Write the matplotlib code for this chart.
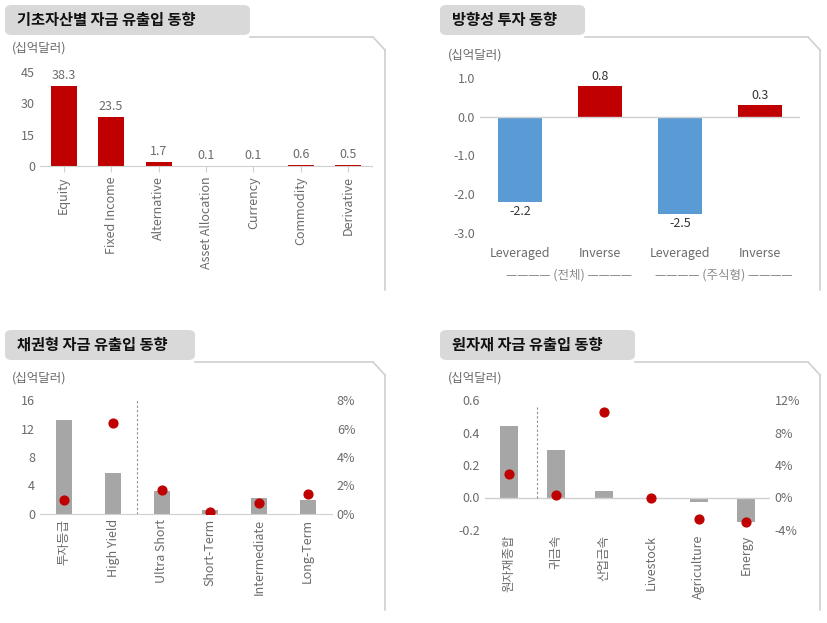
import matplotlib
matplotlib.use("Agg")
import matplotlib.pyplot as plt
from matplotlib.patches import FancyBboxPatch
from matplotlib.lines import Line2D

plt.rcParams['font.family'] = ['Noto Sans CJK KR', 'Noto Sans CJK JP', 'Noto Sans CJK SC', 'DejaVu Sans']

asset_cats = ["Equity", "Fixed Income", "Alternative", "Asset Allocation", "Currency", "Commodity", "Derivative"]
asset_vals = [38.3, 23.5, 1.7, 0.1, 0.1, 0.6, 0.5]

dir_cats = ["Leveraged", "Inverse", "Leveraged", "Inverse"]
dir_vals = [-2.2, 0.8, -2.5, 0.3]

bond_cats = ["투자등급", "High Yield", "Ultra Short", "Short-Term", "Intermediate", "Long-Term"]
bond_flows = [13.2, 5.8, 3.2, 0.5, 2.3, 1.9]
bond_pct = [1.0, 6.4, 1.7, 0.15, 0.8, 1.4]

comm_cats = ["원자재종합", "귀금속", "산업금속", "Livestock", "Agriculture", "Energy"]
comm_flows = [0.44, 0.29, 0.04, 0.0, -0.03, -0.15]
comm_pct = [2.9, 0.3, 10.5, 0.0, -2.7, -3.0]

RED = "#c00000"
BLUE = "#5b9bd5"
GRAY = "#a6a6a6"
TXT = "#6b6b6b"
FS = 9
W, H = 827, 623

fig = plt.figure(figsize=(8.27, 6.23), dpi=100)

def px(x0, y0, x1, y1):
    return [x0 / W, 1 - y1 / H, (x1 - x0) / W, (y1 - y0) / H]

def panel(x0, y0, tabw, x1, y1, title):
    fig.patches.append(FancyBboxPatch((x0 / W, 1 - (y0 + 30) / H), tabw / W, 30 / H,
                                      boxstyle="round,pad=0,rounding_size=0.008",
                                      transform=fig.transFigure, fc="#d9d9d9", ec="none"))
    fig.text((x0 + 12) / W, 1 - (y0 + 15) / H, title, fontsize=11, fontweight='bold',
             va='center', ha='left', color="#111111")
    fig.add_artist(Line2D([(x0 + tabw) / W, (x1 - 12) / W], [1 - (y0 + 32) / H] * 2,
                          transform=fig.transFigure, color="#d0d0d0", lw=1.2))
    fig.add_artist(Line2D([(x1) / W] * 2, [1 - (y0 + 45) / H, 1 - y1 / H],
                          transform=fig.transFigure, color="#d0d0d0", lw=1.2))
    fig.add_artist(Line2D([(x1 - 12) / W, x1 / W], [1 - (y0 + 32) / H, 1 - (y0 + 45) / H],
                          transform=fig.transFigure, color="#d0d0d0", lw=1.2))

def style(ax):
    for s in ["top", "right", "left"]:
        ax.spines[s].set_visible(False)
    ax.spines["bottom"].set_color("#d0d0d0")
    ax.tick_params(colors=TXT, labelsize=FS, length=0)
    ax.set_facecolor("none")

panel(5, 5, 245, 385, 290, "기초자산별 자금 유출입 동향")
panel(440, 5, 145, 820, 290, "방향성 투자 동향")
panel(5, 330, 190, 385, 610, "채권형 자금 유출입 동향")
panel(440, 330, 195, 820, 610, "원자재 자금 유출입 동향")

# Panel 1
ax1 = fig.add_axes(px(40, 72, 372, 166))
style(ax1)
x = range(len(asset_cats))
ax1.bar(x, asset_vals, width=0.55, color=RED)
for i, v in zip(x, asset_vals):
    ax1.text(i, v + 2, f"{v}", ha='center', va='bottom', fontsize=FS, color=TXT)
ax1.set_ylim(0, 45)
ax1.set_yticks([0, 15, 30, 45])
ax1.set_xlim(-0.5, len(asset_cats) - 0.5)
ax1.set_xticks(list(x))
ax1.set_xticklabels(asset_cats, rotation=90)
ax1.tick_params(axis='x', length=4, color="#d0d0d0", direction='out')
fig.text(12 / W, 1 - 48 / H, "(십억달러)", fontsize=FS, color=TXT, va='center')

# Panel 2
ax2 = fig.add_axes(px(480, 78, 800, 233))
style(ax2)
ax2.spines["bottom"].set_visible(False)
x2 = range(len(dir_cats))
ax2.bar(x2, dir_vals, width=0.55, color=[BLUE, RED, BLUE, RED])
for i, v in zip(x2, dir_vals):
    ax2.text(i, v + (0.08 if v > 0 else -0.08), f"{v}", ha='center',
             va='bottom' if v > 0 else 'top', fontsize=FS, color="#333333")
ax2.axhline(0, color="#d0d0d0", lw=1)
ax2.set_ylim(-3.0, 1.0)
ax2.set_yticks([1.0, 0.0, -1.0, -2.0, -3.0])
ax2.set_yticklabels(["1.0", "0.0", "-1.0", "-2.0", "-3.0"])
ax2.set_xlim(-0.5, 3.5)
ax2.set_xticks(list(x2))
ax2.set_xticklabels(dir_cats)
ax2.tick_params(axis='x', pad=10)
fig.text(448 / W, 1 - 55 / H, "(십억달러)", fontsize=FS, color=TXT, va='center')
fig.text(0.5 * (481 + 640) / W + 0.01, 1 - 275 / H, "———— (전체) ————", fontsize=FS, color="#8c8c8c", ha='center', va='center')
fig.text(0.5 * (640 + 800) / W + 0.005, 1 - 275 / H, "———— (주식형) ————", fontsize=FS, color="#8c8c8c", ha='center', va='center')

# Panel 3
ax3 = fig.add_axes(px(40, 400, 332, 514))
style(ax3)
x3 = list(range(len(bond_cats)))
ax3.bar(x3, bond_flows, width=0.33, color=GRAY)
ax3.set_ylim(0, 16)
ax3.set_yticks([0, 4, 8, 12, 16])
ax3.set_xlim(-0.5, len(bond_cats) - 0.5)
ax3.set_xticks(x3)
ax3.set_xticklabels(bond_cats, rotation=90)
ax3.axvline(1.5, color="#8c8c8c", lw=0.8, ls=(0, (2, 2)))
ax3b = ax3.twinx()
ax3b.scatter(x3, bond_pct, color=RED, s=40, zorder=5)
ax3b.set_ylim(0, 8)
ax3b.set_yticks([0, 2, 4, 6, 8])
ax3b.set_yticklabels([f"{v}%" for v in [0, 2, 4, 6, 8]])
for s in ["top", "right", "left", "bottom"]:
    ax3b.spines[s].set_visible(False)
ax3b.tick_params(colors=TXT, labelsize=FS, length=0)
fig.text(12 / W, 1 - 378 / H, "(십억달러)", fontsize=FS, color=TXT, va='center')

# Panel 4
ax4 = fig.add_axes(px(485, 400, 770, 530))
style(ax4)
ax4.spines["bottom"].set_visible(False)
x4 = list(range(len(comm_cats)))
ax4.bar(x4, comm_flows, width=0.38, color=GRAY)
ax4.axhline(0, color="#d0d0d0", lw=1)
ax4.set_ylim(-0.2, 0.6)
ax4.set_yticks([-0.2, 0.0, 0.2, 0.4, 0.6])
ax4.set_yticklabels(["-0.2", "0.0", "0.2", "0.4", "0.6"])
ax4.set_xlim(-0.5, len(comm_cats) - 0.5)
ax4.set_xticks(x4)
ax4.set_xticklabels(comm_cats, rotation=90)
ax4.axvline(0.6, ymin=0.25, ymax=0.95, color="#8c8c8c", lw=0.8, ls=(0, (2, 2)))
ax4b = ax4.twinx()
ax4b.scatter(x4, comm_pct, color=RED, s=40, zorder=5)
ax4b.set_ylim(-4, 12)
ax4b.set_yticks([-4, 0, 4, 8, 12])
ax4b.set_yticklabels([f"{v}%" for v in [-4, 0, 4, 8, 12]])
for s in ["top", "right", "left", "bottom"]:
    ax4b.spines[s].set_visible(False)
ax4b.tick_params(colors=TXT, labelsize=FS, length=0)
fig.text(448 / W, 1 - 378 / H, "(십억달러)", fontsize=FS, color=TXT, va='center')

fig.savefig("out.png", dpi=100, facecolor="white")
